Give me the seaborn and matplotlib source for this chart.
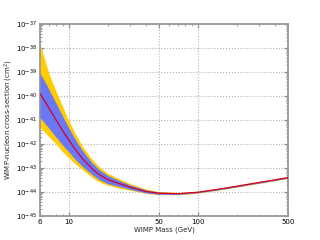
import numpy as np
import pandas as pd
import matplotlib
matplotlib.use('Agg')
import matplotlib.pyplot as plt
import seaborn as sns
from matplotlib.ticker import FixedLocator, FixedFormatter, NullFormatter

# WIMP mass (GeV) and log10 of cross-section (cm^2)
mass = [6, 6.5, 7, 7.5, 8, 9, 10, 11, 12, 13, 15, 17, 20, 25, 30, 40, 50, 70, 100, 150, 200, 300, 500]
central = [-39.9, -40.2, -40.48, -40.75, -41.0, -41.45, -41.82, -42.15, -42.42, -42.65, -43.0, -43.25,
           -43.48, -43.66, -43.8, -43.98, -44.05, -44.07, -44.01, -43.87, -43.76, -43.6, -43.4]
blue_hi = [-39.05, -39.38, -39.7, -40.01, -40.3, -40.85, -41.32, -41.72, -42.05, -42.33, -42.75, -43.04,
           -43.31, -43.54, -43.71, -43.92, -44.005, -44.035, -43.985, -43.845, -43.735, -43.575, -43.375]
blue_lo = [-40.9, -41.12, -41.33, -41.53, -41.72, -42.05, -42.32, -42.58, -42.79, -42.97, -43.25, -43.46,
           -43.65, -43.78, -43.89, -44.04, -44.095, -44.105, -44.035, -43.895, -43.785, -43.625, -43.425]
yel_hi = [-37.8, -38.45, -39.03, -39.45, -39.8, -40.45, -41.02, -41.47, -41.84, -42.15, -42.6, -42.92,
          -43.22, -43.47, -43.65, -43.88, -43.98, -44.02, -43.97, -43.83, -43.72, -43.56, -43.36]
yel_lo = [-41.3, -41.5, -41.68, -41.85, -42.0, -42.33, -42.56, -42.78, -42.95, -43.1, -43.37, -43.56,
          -43.72, -43.84, -43.93, -44.06, -44.11, -44.115, -44.05, -43.91, -43.8, -43.64, -43.44]

xticks = [6, 10, 50, 100, 500]
xticklabels = ['6', '10', '50', '100', '500']
ydecades = [-45, -44, -43, -42, -41, -40, -39, -38, -37]
yticklabels = ['$10^{%d}$' % d for d in ydecades]

df = pd.DataFrame({'mass': mass, 'xsec': 10.0 ** np.array(central)})

sns.set_style('ticks', {'xtick.direction': 'in', 'ytick.direction': 'in'})
plt.rcParams['font.family'] = ['DejaVu Sans']

fig, ax = plt.subplots(figsize=(3.2, 2.4), dpi=100)
fig.subplots_adjust(left=0.125, right=0.9, bottom=0.1, top=0.9)

ax.fill_between(mass, 10.0 ** np.array(yel_lo), 10.0 ** np.array(yel_hi), color='#ffcc00', lw=0, zorder=2)
ax.fill_between(mass, 10.0 ** np.array(blue_lo), 10.0 ** np.array(blue_hi), color='#6a78f5', lw=0, zorder=3)
sns.lineplot(data=df, x='mass', y='xsec', color='#d40020', lw=0.9, ax=ax, zorder=4)

ax.set_xscale('log')
ax.set_yscale('log')
ax.set_xlim(6, 500)
ax.set_ylim(1e-45, 1e-37)

ax.xaxis.set_major_locator(FixedLocator(xticks))
ax.xaxis.set_major_formatter(FixedFormatter(xticklabels))
ax.xaxis.set_minor_formatter(NullFormatter())
ax.yaxis.set_major_locator(FixedLocator([10.0 ** d for d in ydecades]))
ax.yaxis.set_major_formatter(FixedFormatter(yticklabels))
ax.yaxis.set_minor_locator(FixedLocator([k * 10.0 ** d for d in ydecades[:-1] for k in range(2, 10)]))
ax.yaxis.set_minor_formatter(NullFormatter())

ax.grid(True, which='major', ls=':', color='#b0b0b0', lw=0.8, zorder=1)
ax.set_axisbelow(True)

ax.tick_params(which='both', direction='in', top=True, right=True, colors='#888888',
               labelcolor='black', labelsize=5, pad=2)
ax.tick_params(which='major', length=3, width=0.8)
ax.tick_params(which='minor', length=1.5, width=0.6)
for s in ax.spines.values():
    s.set_color('#999999')
    s.set_linewidth(1.3)

ax.set_xlabel('WIMP Mass (GeV)', fontsize=5, labelpad=1)
ax.set_ylabel('WIMP-nucleon cross-section (cm$^2$)', fontsize=5, labelpad=0.5)

fig.savefig('out.png', dpi=100)
